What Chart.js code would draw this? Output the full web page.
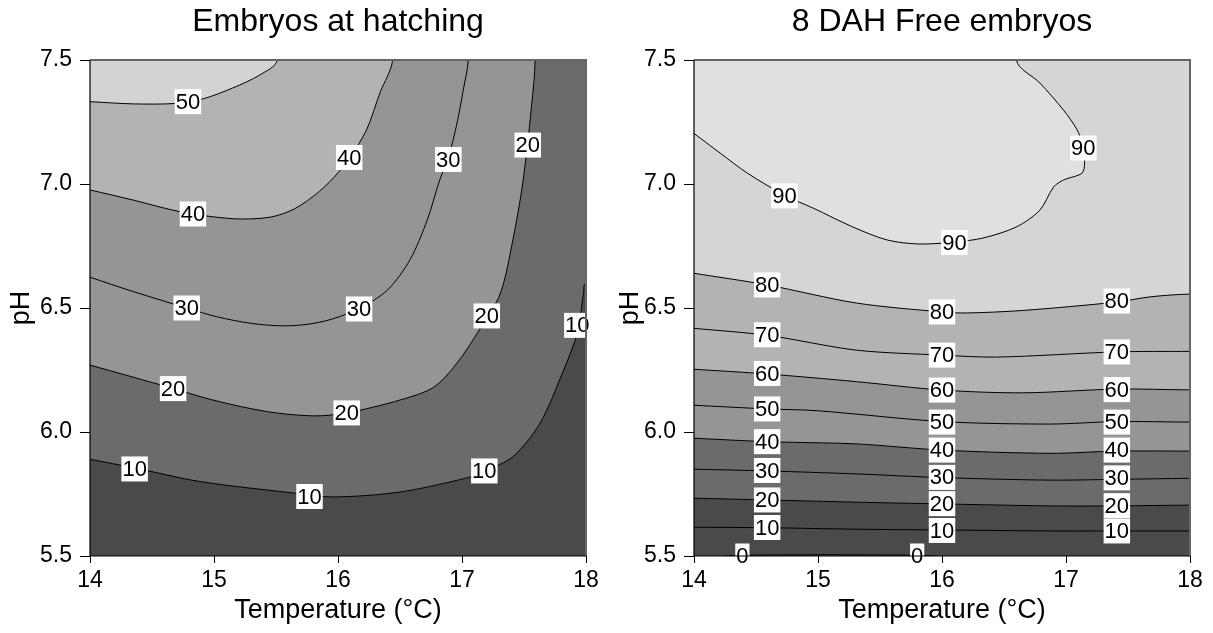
<!DOCTYPE html>
<html lang="en">
<head>
<meta charset="UTF-8">
<title>Embryos contour plots</title>
<style>
    html, body { margin: 0; padding: 0; background: #fff; }
    .panel { position: absolute; top: 0; height: 633px; }
    #leftPanel { left: 0; width: 606px; }
    #rightPanel { left: 606px; width: 607px; }
</style>
</head>
<body>
<div class="panel" id="leftPanel"><canvas id="hatchChart"></canvas></div>
<div class="panel" id="rightPanel"><canvas id="freeChart"></canvas></div>

<script src="https://cdn.jsdelivr.net/npm/chart.js"></script>
<script>
// axis ticks
const tempTicks = [14, 15, 16, 17, 18];
const phTicks = [5.5, 6.0, 6.5, 7.0, 7.5];

// Embryos at hatching - contour lines as [temperature, pH]
const hatchLevels = [10, 20, 30, 40, 50];
const hatch10 = [[14, 5.89], [14.36, 5.855], [14.89, 5.8], [15.64, 5.754], [15.96, 5.738], [16.5, 5.758], [17.04, 5.815], [17.17, 5.84], [17.41, 5.9], [17.63, 6.036], [17.81, 6.238], [17.93, 6.4], [17.98, 6.56], [18, 6.6]];
const hatch20 = [[14, 6.27], [14.66, 6.177], [14.99, 6.129], [15.43, 6.082], [15.8, 6.065], [16.07, 6.077], [16.5, 6.129], [16.77, 6.18], [16.96, 6.278], [17.15, 6.42], [17.31, 6.56], [17.41, 6.774], [17.49, 7.004], [17.56, 7.31], [17.59, 7.5]];
const hatch30 = [[14, 6.624], [14.35, 6.566], [14.78, 6.5], [15.02, 6.465], [15.3, 6.438], [15.55, 6.428], [15.75, 6.434], [15.95, 6.455], [16.18, 6.5], [16.4, 6.573], [16.58, 6.694], [16.72, 6.855], [16.82, 7.016], [16.89, 7.105], [16.96, 7.246], [17.01, 7.379], [17.05, 7.5]];
const hatch40 = [[14, 6.976], [14.35, 6.935], [14.73, 6.888], [15.15, 6.86], [15.45, 6.866], [15.65, 6.9], [15.85, 6.97], [16.0, 7.045], [16.1, 7.11], [16.23, 7.218], [16.34, 7.37], [16.44, 7.5]];
const hatch50 = [[14, 7.332], [14.35, 7.323], [14.7, 7.325], [14.91, 7.343], [15.15, 7.387], [15.37, 7.44], [15.51, 7.5]];
// contour labels: [level, temperature, pH]
const hatchLabels = [[50, 14.79, 7.332], [40, 14.83, 6.879], [30, 14.78, 6.5], [40, 16.09, 7.107], [30, 16.89, 7.099], [20, 17.53, 7.157], [30, 16.17, 6.496], [20, 17.2, 6.468], [10, 17.93, 6.43], [20, 14.67, 6.175], [10, 14.36, 5.851], [20, 16.07, 6.077], [10, 15.77, 5.74], [10, 17.18, 5.843]];

// 8 DAH free embryos
const freeLevels = [0, 10, 20, 30, 40, 50, 60, 70, 80, 90];
const free0 = [[14.25, 5.5], [14.4, 5.503], [15.0, 5.505], [15.81, 5.503], [15.95, 5.5]];
const free10 = [[14, 5.616], [14.59, 5.614], [15.31, 5.608], [16.0, 5.605], [16.87, 5.601], [17.41, 5.601], [18, 5.601]];
const free20 = [[14, 5.733], [14.59, 5.726], [15.31, 5.717], [16.0, 5.71], [16.87, 5.702], [17.41, 5.702], [18, 5.705]];
const free30 = [[14, 5.85], [14.59, 5.843], [15.31, 5.831], [16.0, 5.816], [16.87, 5.806], [17.41, 5.809], [18, 5.813]];
const free40 = [[14, 5.975], [14.59, 5.961], [15.31, 5.952], [16.0, 5.927], [16.87, 5.914], [17.41, 5.923], [18, 5.923]];
const free50 = [[14, 6.108], [14.59, 6.093], [14.99, 6.086], [16.0, 6.042], [16.87, 6.032], [17.41, 6.042], [18, 6.04]];
const free60 = [[14, 6.253], [14.59, 6.234], [15.31, 6.203], [16.0, 6.169], [16.65, 6.158], [17.41, 6.173], [18, 6.17]];
const free70 = [[14, 6.418], [14.59, 6.39], [15.31, 6.33], [16.0, 6.31], [16.44, 6.302], [17.41, 6.323], [18, 6.325]];
const free80 = [[14, 6.64], [14.59, 6.593], [15.31, 6.52], [16.0, 6.484], [16.2, 6.48], [16.65, 6.49], [17.41, 6.524], [17.68, 6.545], [18, 6.556]];
const free90 = [[14, 7.204], [14.21, 7.125], [14.43, 7.044], [14.74, 6.952], [14.96, 6.903], [15.28, 6.827], [15.56, 6.774], [15.82, 6.758], [16.1, 6.766], [16.33, 6.782], [16.6, 6.827], [16.79, 6.895], [16.9, 6.988], [16.98, 7.016], [17.13, 7.044], [17.15, 7.085], [17.14, 7.149], [17.09, 7.218], [16.98, 7.298], [16.79, 7.407], [16.6, 7.5]];
const freeLabels = [
    [90, 14.73, 6.952], [90, 16.1, 6.764], [90, 17.14, 7.145],
    [80, 14.59, 6.593], [70, 14.59, 6.392], [60, 14.59, 6.236], [50, 14.59, 6.093], [40, 14.59, 5.961], [30, 14.59, 5.845], [20, 14.59, 5.726], [10, 14.59, 5.615], [0, 14.39, 5.5],
    [80, 16.0, 6.484], [70, 16.0, 6.31], [60, 16.0, 6.169], [50, 16.0, 6.04], [40, 16.0, 5.927], [30, 16.0, 5.817], [20, 16.0, 5.711], [10, 16.0, 5.603], [0, 15.8, 5.5],
    [80, 17.41, 6.528], [70, 17.41, 6.323], [60, 17.41, 6.171], [50, 17.41, 6.04], [40, 17.41, 5.927], [30, 17.41, 5.815], [20, 17.41, 5.703], [10, 17.41, 5.601]
];

// grey shade of the band above each contour
const hatchFills = ['#6b6b6b', '#959595', '#959595', '#b3b3b3', '#d3d3d3'];
const freeFills = [null, '#4a4a4a', '#6b6b6b', '#6b6b6b', '#959595', '#959595', '#b3b3b3', '#b3b3b3', '#d5d5d5', '#e0e0e0'];
const baseFill = '#4a4a4a';

const FONT = 'Arial, "Liberation Sans", sans-serif';
const T_MIN = 14, T_MAX = 18, PH_MIN = 5.5, PH_MAX = 7.5;

// builds one dataset per contour; the region above the contour is closed
// outside the plot area so it can be filled as a shape
function contourDatasets(levels, lines, fills) {
    return levels.map((level, i) => {
        const pts = lines[i].map(([t, ph]) => ({ x: t, y: ph }));
        const first = pts[0], last = pts[pts.length - 1];
        let fill = false;
        if (fills[i] && first.x === T_MIN) {
            const top = PH_MAX + 0.6, left = T_MIN - 1.2, right = T_MAX + 1.2;
            if (last.x === T_MAX) {
                pts.push({ x: right, y: last.y }, { x: right, y: top });
            } else {
                pts.push({ x: last.x, y: top });
            }
            pts.push({ x: left, y: top }, { x: left, y: first.y });
            fill = 'shape';
        }
        return {
            label: String(level),
            data: pts,
            order: -level,
            fill: fill,
            backgroundColor: fills[i] || 'transparent',
            borderColor: '#000',
            borderWidth: 1,
            tension: 0.3,
            capBezierPoints: false,
            pointRadius: 0,
            pointHitRadius: 0
        };
    });
}

const contourLabels = {
    id: 'contourLabels',
    beforeDatasetsDraw(chart, args, opts) {
        const { ctx, chartArea: a } = chart;
        ctx.save();
        ctx.fillStyle = opts.base;
        ctx.fillRect(a.left, a.top, a.right - a.left, a.bottom - a.top);
        ctx.restore();
    },
    afterDatasetsDraw(chart, args, opts) {
        const { ctx, chartArea: a, scales: { x, y } } = chart;
        ctx.save();
        ctx.font = '22px ' + FONT;
        ctx.textAlign = 'center';
        ctx.textBaseline = 'middle';
        opts.labels.forEach(([level, t, ph]) => {
            const px = x.getPixelForValue(t);
            const py = y.getPixelForValue(ph);
            const text = String(level);
            const w = ctx.measureText(text).width + 2;
            const h = 25;
            ctx.save();
            ctx.beginPath();
            ctx.rect(a.left, a.top, a.right - a.left, a.bottom - a.top);
            ctx.clip();
            ctx.fillStyle = '#fff';
            ctx.fillRect(px - w / 2, py - h / 2, w, h);
            ctx.restore();
            ctx.fillStyle = '#000';
            ctx.fillText(text, px, py + 1);
        });

        // plot frame
        ctx.lineWidth = 2;
        ctx.strokeStyle = '#666';
        ctx.beginPath();
        ctx.moveTo(a.left, a.top);
        ctx.lineTo(a.right, a.top);
        ctx.lineTo(a.right, a.bottom);
        ctx.stroke();
        ctx.lineWidth = 1.2;
        ctx.strokeStyle = '#000';
        ctx.beginPath();
        ctx.moveTo(a.left, a.top);
        ctx.lineTo(a.left, a.bottom);
        ctx.lineTo(a.right, a.bottom);
        ctx.stroke();
        ctx.restore();
    }
};

function buildChart(canvasId, title, datasets, labels, yWidth, yTitlePad, rightPad) {
    return new Chart(document.getElementById(canvasId), {
        type: 'line',
        data: { datasets: datasets },
        options: {
            responsive: true,
            maintainAspectRatio: false,
            animation: false,
            events: [],
            layout: { padding: { left: 0, right: rightPad, top: 0, bottom: 0 } },
            scales: {
                x: {
                    type: 'linear',
                    min: T_MIN,
                    max: T_MAX,
                    afterBuildTicks: s => { s.ticks = tempTicks.map(v => ({ value: v })); },
                    afterFit: s => { s.height = 77; },
                    ticks: { color: '#000', font: { size: 23, family: FONT }, padding: 4, maxRotation: 0, autoSkip: false },
                    grid: { drawOnChartArea: false, drawTicks: true, tickLength: 7, color: '#000' },
                    border: { display: false },
                    title: { display: true, text: 'Temperature (°C)', color: '#000', font: { size: 27, family: FONT }, padding: { top: 0, bottom: 6 } }
                },
                y: {
                    type: 'linear',
                    min: PH_MIN,
                    max: PH_MAX,
                    afterBuildTicks: s => { s.ticks = phTicks.map(v => ({ value: v })); },
                    afterFit: s => { s.width = yWidth; },
                    ticks: { color: '#000', font: { size: 23, family: FONT }, padding: 8, callback: v => Number(v).toFixed(1) },
                    grid: { drawOnChartArea: false, drawTicks: true, tickLength: 10, color: '#000' },
                    border: { display: false },
                    title: { display: true, text: 'pH', color: '#000', font: { size: 27, family: FONT }, padding: { top: yTitlePad, bottom: 0 } }
                }
            },
            plugins: {
                legend: { display: false },
                tooltip: { enabled: false },
                title: {
                    display: true,
                    text: title,
                    color: '#000',
                    fullSize: false,
                    font: { size: 32, weight: 'normal', family: FONT },
                    padding: { top: 3, bottom: 18.6 }
                },
                contourLabels: { labels: labels, base: baseFill }
            }
        },
        plugins: [contourLabels]
    });
}

buildChart('hatchChart', 'Embryos at hatching',
    contourDatasets(hatchLevels, [hatch10, hatch20, hatch30, hatch40, hatch50], hatchFills),
    hatchLabels, 90, 5, 20);

buildChart('freeChart', '8 DAH Free embryos',
    contourDatasets(freeLevels, [free0, free10, free20, free30, free40, free50, free60, free70, free80, free90], freeFills),
    freeLabels, 88, 8, 23);
</script>
</body>
</html>
